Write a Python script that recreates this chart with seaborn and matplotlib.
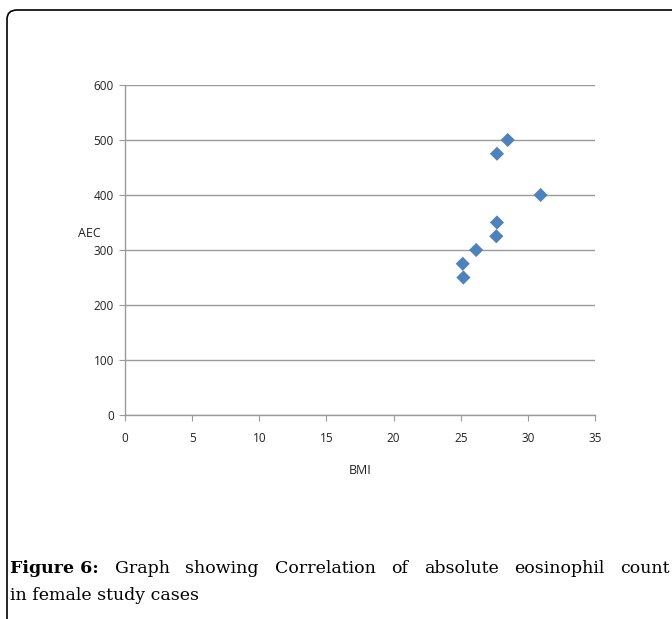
import numpy as np
import pandas as pd
import seaborn as sns
import matplotlib.pyplot as plt
from matplotlib.patches import FancyBboxPatch

sns.set_theme(style="white")
plt.rcParams["font.family"] = ["Open Sans", "DejaVu Sans"]

# data
bmi = [28.5, 27.7, 30.95, 27.7, 27.65, 26.15, 25.15, 25.2]
aec = [500, 475, 400, 350, 325, 300, 275, 250]
x_ticks = [0, 5, 10, 15, 20, 25, 30, 35]
y_ticks = [0, 100, 200, 300, 400, 500, 600]
caption_bold = "Figure 6:"
caption_line1 = "Graph showing Correlation of absolute eosinophil count"
caption_line2 = "in female study cases"

df = pd.DataFrame({"BMI": bmi, "AEC": aec})

W, H = 672, 619
fig = plt.figure(figsize=(W / 100, H / 100), dpi=100)
ax = fig.add_axes([125 / W, 1 - 415 / H, 470 / W, 330 / H])

sns.scatterplot(data=df, x="BMI", y="AEC", marker="D", s=52, color="#4F81BD",
                edgecolor="none", ax=ax, zorder=3, clip_on=False)

ax.set_xlim(0, 35)
ax.set_ylim(0, 600)
ax.set_xticks(x_ticks)
ax.set_yticks(y_ticks)
ax.tick_params(axis="both", labelsize=8.5, length=4, width=0.8,
               direction="out", pad=4, left=True, bottom=True, color="#9a9a9a")
ax.tick_params(axis="x", pad=8)
for t in ax.get_xticklabels() + ax.get_yticklabels():
    t.set_color("#222222")
ax.yaxis.grid(True, color="#9a9a9a", linewidth=1.0)
ax.xaxis.grid(False)
for s in ["top", "right"]:
    ax.spines[s].set_visible(False)
for s in ["left", "bottom"]:
    ax.spines[s].set_color("#9a9a9a")
    ax.spines[s].set_linewidth(1.0)

ax.set_xlabel("BMI", fontsize=9, color="#222222", labelpad=14)
ax.set_ylabel("AEC", fontsize=9, color="#222222", rotation=0)
ax.yaxis.set_label_coords(-0.075, 0.53)

# page frame
frame = FancyBboxPatch((7 / W, -0.2), 1.2, 1 - 10 / H + 0.2,
                       boxstyle="round,pad=0,rounding_size=0.015",
                       transform=fig.transFigure, fill=False,
                       edgecolor="black", linewidth=1.2, clip_on=False)
fig.patches.append(frame)

# caption, first line justified to the right edge
serif = ["DejaVu Serif"]
fs = 12.5
r = fig.canvas.get_renderer()
y1 = 1 - 573 / H
y2 = 1 - 600 / H
words = [(caption_bold, "bold")] + [(w, "normal") for w in caption_line1.split()]
texts = [fig.text(0, y1, w, fontsize=fs, fontweight=wt, family=serif,
                  color="black", va="baseline") for w, wt in words]
widths = [t.get_window_extent(renderer=r).width for t in texts]
left, right = 10, 670
gap = (right - left - sum(widths)) / (len(texts) - 1)
x = left
for t, w in zip(texts, widths):
    t.set_x(x / W)
    x += w + gap
fig.text(left / W, y2, caption_line2, fontsize=fs, family=serif,
         color="black", va="baseline")

fig.savefig("out.png", dpi=100)
